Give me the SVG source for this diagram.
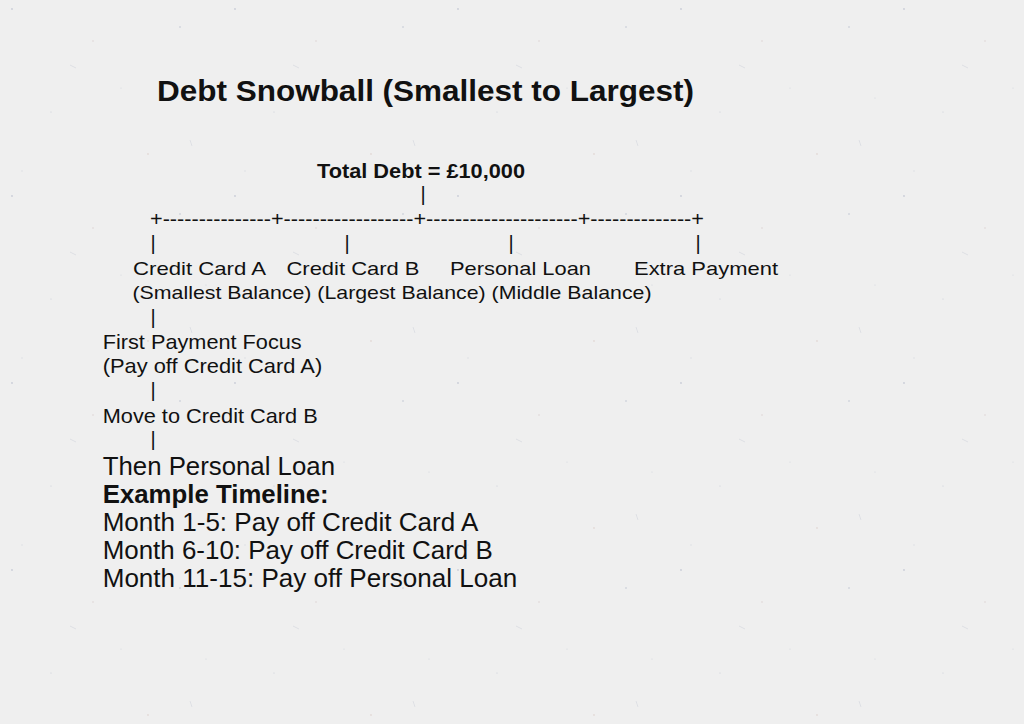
<svg xmlns="http://www.w3.org/2000/svg" width="1024" height="724" viewBox="0 0 1024 724">
  <defs>
    <pattern id="speckle" width="223" height="187" patternUnits="userSpaceOnUse">
      <circle cx="12" cy="9" r="0.9" fill="#9aa3b8" opacity="0.45"/>
      <circle cx="93" cy="41" r="0.7" fill="#b8a0a0" opacity="0.4"/>
      <circle cx="180" cy="27" r="1.1" fill="#a3abc0" opacity="0.35"/>
      <circle cx="51" cy="112" r="0.6" fill="#9aa3b8" opacity="0.45"/>
      <circle cx="148" cy="154" r="0.9" fill="#c9a9a0" opacity="0.3"/>
      <circle cx="206" cy="98" r="0.6" fill="#a8b0c2" opacity="0.4"/>
      <circle cx="121" cy="88" r="0.5" fill="#9aa3b8" opacity="0.4"/>
      <circle cx="22" cy="171" r="0.7" fill="#a8b0c2" opacity="0.35"/>
      <path d="M70 65 l6 3" stroke="#b0b7c8" stroke-width="0.8" opacity="0.35"/>
      <path d="M190 140 l2 6" stroke="#b0b7c8" stroke-width="0.8" opacity="0.35"/>
    </pattern>
    <style>
      .t { font-family: "Liberation Sans", Arial, sans-serif; fill: #111111; }
      .b { font-weight: bold; }
      .up { font-size: 19px; }
      .lo { font-size: 21px; }
      .big { font-size: 25px; }
      .pipe { font-family: "Liberation Sans", Arial, sans-serif; font-size: 20px; fill: #111111; text-anchor: middle; }
    </style>
  </defs>

  <rect x="0" y="0" width="1024" height="724" fill="#efefef"/>
  <rect x="0" y="0" width="1024" height="724" fill="url(#speckle)"/>

  <g id="title">
    <text class="t b" x="157" y="101" font-size="30" textLength="537" lengthAdjust="spacingAndGlyphs">Debt Snowball (Smallest to Largest)</text>
  </g>

  <g id="total-debt">
    <text class="t b" x="317" y="178" font-size="20" textLength="208" lengthAdjust="spacingAndGlyphs">Total Debt = £10,000</text>
  </g>

  <g id="connectors">
    <text class="pipe" x="423" y="201">|</text>
    <text class="t" x="150" y="226" font-size="20" textLength="554" lengthAdjust="spacingAndGlyphs">+---------------+------------------+---------------------+--------------+</text>
    <text class="pipe" x="153" y="250">|</text>
    <text class="pipe" x="347" y="250">|</text>
    <text class="pipe" x="511" y="250">|</text>
    <text class="pipe" x="698" y="250">|</text>
    <text class="pipe" x="153" y="324">|</text>
    <text class="pipe" x="153" y="397">|</text>
    <text class="pipe" x="153" y="446">|</text>
  </g>

  <g id="credit-card-a">
    <text class="t up" x="133" y="275" textLength="133" lengthAdjust="spacingAndGlyphs">Credit Card A</text>
  </g>
  <g id="credit-card-b">
    <text class="t up" x="286.5" y="275" textLength="133" lengthAdjust="spacingAndGlyphs">Credit Card B</text>
  </g>
  <g id="personal-loan">
    <text class="t up" x="450" y="275" textLength="141" lengthAdjust="spacingAndGlyphs">Personal Loan</text>
  </g>
  <g id="extra-payment">
    <text class="t up" x="634" y="275" textLength="144" lengthAdjust="spacingAndGlyphs">Extra Payment</text>
  </g>
  <g id="balances">
    <text class="t up" x="132.5" y="299" textLength="519" lengthAdjust="spacingAndGlyphs">(Smallest Balance) (Largest Balance) (Middle Balance)</text>
  </g>

  <g id="first-payment-focus">
    <text class="t lo" x="102.7" y="349" textLength="199" lengthAdjust="spacingAndGlyphs">First Payment Focus</text>
    <text class="t lo" x="102.7" y="373" textLength="219.5" lengthAdjust="spacingAndGlyphs">(Pay off Credit Card A)</text>
  </g>
  <g id="move-to-credit-card-b">
    <text class="t lo" x="102.7" y="423" textLength="215" lengthAdjust="spacingAndGlyphs">Move to Credit Card B</text>
  </g>
  <g id="then-personal-loan">
    <text class="t big" x="102.7" y="475" textLength="232.3" lengthAdjust="spacingAndGlyphs">Then Personal Loan</text>
  </g>

  <g id="example-timeline">
    <text class="t big b" x="102.7" y="502.5" textLength="226" lengthAdjust="spacingAndGlyphs">Example Timeline:</text>
    <text class="t big" x="102.7" y="530.5" textLength="375.6" lengthAdjust="spacingAndGlyphs">Month 1-5: Pay off Credit Card A</text>
    <text class="t big" x="102.7" y="558.5" textLength="390" lengthAdjust="spacingAndGlyphs">Month 6-10: Pay off Credit Card B</text>
    <text class="t big" x="102.7" y="586.5" textLength="414.6" lengthAdjust="spacingAndGlyphs">Month 11-15: Pay off Personal Loan</text>
  </g>
</svg>
